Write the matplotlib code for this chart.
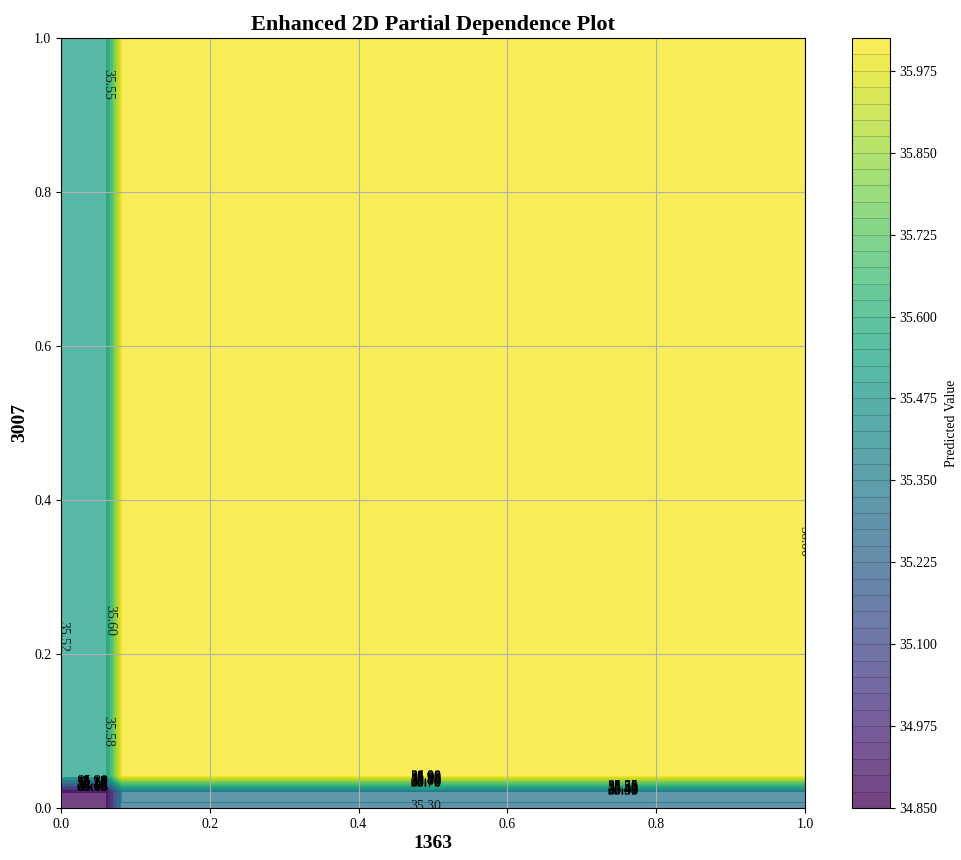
import numpy as np
import matplotlib
matplotlib.use("Agg")
import matplotlib.pyplot as plt
from matplotlib.ticker import FormatStrFormatter

plt.rcParams['font.family'] = ['Liberation Serif', 'DejaVu Serif']

x_grid = [0.0, 0.0204, 0.0408, 0.0612, 0.0816, 0.25, 0.5, 0.75, 1.0]
y_grid = [0.0, 0.0204, 0.0408, 0.2, 0.4, 0.6, 0.8, 1.0]
pd_row_y0 = [34.866, 34.866, 34.866, 34.866, 35.299, 35.299, 35.299, 35.299, 35.299]
pd_row_y1 = [34.868, 34.868, 34.868, 34.868, 35.302, 35.302, 35.302, 35.302, 35.302]
pd_row_y2 = [35.522, 35.522, 35.520, 35.518, 36.012, 36.012, 36.012, 36.012, 36.012]
pd_row_y3 = [35.522, 35.522, 35.520, 35.518, 36.012, 36.012, 36.012, 36.012, 36.012]
pd_row_y4 = [35.522, 35.522, 35.520, 35.518, 36.012, 36.012, 36.012, 36.012, 36.012]
pd_row_y5 = [35.522, 35.522, 35.520, 35.518, 36.012, 36.012, 36.012, 36.012, 36.012]
pd_row_y6 = [35.522, 35.522, 35.520, 35.518, 36.012, 36.012, 36.012, 36.012, 36.012]
pd_row_y7 = [35.522, 35.522, 35.520, 35.518, 36.012, 36.012, 36.012, 36.012, 36.012]
level_start, level_stop, level_step = 34.85, 36.03, 0.025
tick_values = [34.85, 34.975, 35.1, 35.225, 35.35, 35.475, 35.6, 35.725, 35.85, 35.975]

# stacked contour labels in the narrow y transition
stack_left_levels = [35.05, 35.075, 35.10, 35.125, 35.15, 35.175, 35.20, 35.225, 35.25, 35.275, 35.30]
stack_mid_levels = [35.70, 35.725, 35.75, 35.775, 35.80, 35.825, 35.85, 35.875, 35.90, 35.925, 35.95, 35.975, 36.00]
stack_right_levels = [35.35, 35.375, 35.40, 35.425, 35.45, 35.475, 35.50, 35.525, 35.55]
# single labels along nearly straight contours: (text, x, y, rotation)
single_labels = [('35.55', 0.063, 0.94, 270), ('35.60', 0.066, 0.244, 270),
                 ('35.58', 0.063, 0.100, 270), ('35.52', 0.003, 0.223, 270),
                 ('36.00', 0.9985, 0.346, 270), ('35.30', 0.49, 0.002, 0)]

Z = np.array([pd_row_y0, pd_row_y1, pd_row_y2, pd_row_y3,
              pd_row_y4, pd_row_y5, pd_row_y6, pd_row_y7])
levels = np.arange(level_start, level_stop, level_step)

fig = plt.figure(figsize=(9.62, 8.6), dpi=100)
W, H = 962, 860
ax = fig.add_axes([61/W, 1-808/H, (805-61)/W, (808-38)/H])
cax = fig.add_axes([852/W, 1-808/H, (890-852)/W, (808-38)/H])

cf = ax.contourf(x_grid, y_grid, Z, levels=levels, cmap='viridis', alpha=0.75)
ax.contour(x_grid, y_grid, Z, levels=levels, colors='black', linewidths=0.3, alpha=0.04)

label_kw = dict(color='black', alpha=0.8, fontsize=10, ha='center', va='center', clip_on=True)
for col_x, col_idx, stack in [(0.042, 2, stack_left_levels),
                              (0.49, 6, stack_mid_levels),
                              (0.755, 7, stack_right_levels)]:
    for lev in stack:
        ax.text(col_x, np.interp(lev, Z[:3, col_idx], y_grid[:3]), f'{lev:.2f}',
                **{**label_kw, 'alpha': 1.0})
for txt, lx, ly, rot in single_labels:
    ax.text(lx, ly, txt, rotation=rot, **label_kw)

ax.grid(True, color='#b0b0b0', linewidth=0.8)
ax.set_xlim(0, 1)
ax.set_ylim(0, 1)
ax.set_title('Enhanced 2D Partial Dependence Plot', fontsize=16, fontweight='bold', pad=6)
ax.set_xlabel('1363', fontsize=14, fontweight='bold', labelpad=3)
ax.set_ylabel('3007', fontsize=14, fontweight='bold', labelpad=4)
ax.tick_params(labelsize=10)

cb = fig.colorbar(cf, cax=cax, ticks=tick_values)
inner = levels[(levels > 34.85) & (levels < 36.0)]
cb.add_lines(inner, [(0, 0, 0, 0.2)] * len(inner), 0.6)
cb.set_label('Predicted Value', fontsize=10, labelpad=5)
cb.ax.tick_params(labelsize=10)
cb.ax.yaxis.set_major_formatter(FormatStrFormatter('%.3f'))
fig.savefig('out.png', dpi=100)
